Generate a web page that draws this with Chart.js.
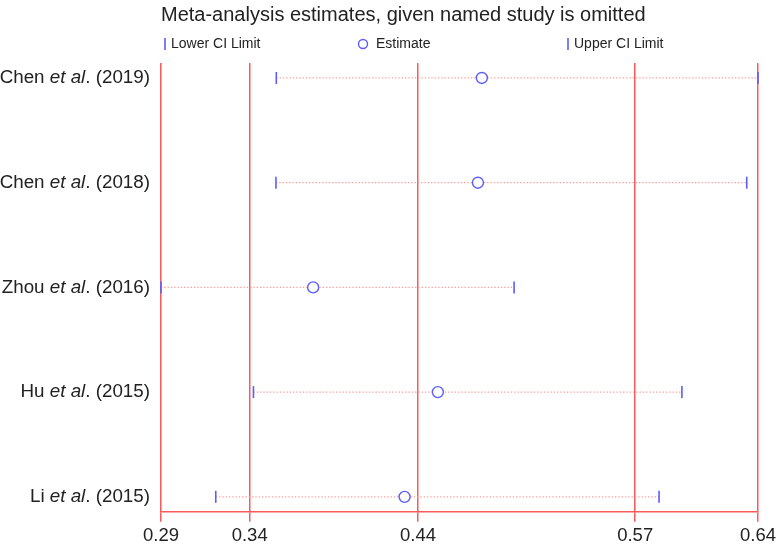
<!DOCTYPE html>
<html lang="en">
<head>
    <meta charset="UTF-8">
    <title>Meta-analysis estimates, given named study is omitted</title>
    <style>
        body {
            margin: 0;
            background: #fff;
        }
        #wrap {
            width: 779px;
            height: 550px;
        }
    </style>
    <script src="https://cdn.jsdelivr.net/npm/chart.js"></script>
</head>
<body>
    <div id="wrap"><canvas id="graph"></canvas></div>

    <script>
        // study labels, top to bottom
        const authors = ['Chen', 'Chen', 'Zhou', 'Hu', 'Li'];
        const years = ['2019', '2018', '2016', '2015', '2015'];

        // estimates with each study omitted
        const lowerCI = [0.3576, 0.3574, 0.2900, 0.3442, 0.3221];
        const estimate = [0.4781, 0.4758, 0.3792, 0.4523, 0.4328];
        const upperCI = [0.6400, 0.6334, 0.4970, 0.5954, 0.5820];

        // x axis ticks (overall lower CI, estimate, upper CI + range)
        const xTicks = [0.29, 0.342, 0.4407, 0.568, 0.64];

        const FONT = "'Liberation Sans', Arial, Helvetica, sans-serif";
        const RED = '#fa5a5a';
        const BLUE = '#5c5cff';
        const DOT = '#ff9a9a';

        const rows = authors.map((_, i) => i + 1);

        // one dotted line per study, from lower to upper limit
        const spanSets = rows.map((y, i) => ({
            type: 'line',
            data: [{ x: lowerCI[i], y: y }, { x: upperCI[i], y: y }],
            borderColor: DOT,
            borderWidth: 1.3,
            borderDash: [1.3, 2],
            pointRadius: 0,
            fill: false,
            clip: false,
            order: 3
        }));

        const lowerSet = {
            type: 'scatter',
            label: 'Lower CI Limit',
            data: rows.map((y, i) => ({ x: lowerCI[i], y: y })),
            pointStyle: 'line',
            rotation: 90,
            radius: 6,
            borderColor: BLUE,
            borderWidth: 1.6,
            clip: false,
            order: 1
        };
        const estSet = {
            type: 'scatter',
            label: 'Estimate',
            data: rows.map((y, i) => ({ x: estimate[i], y: y })),
            pointStyle: 'circle',
            radius: 5.5,
            backgroundColor: '#fff',
            borderColor: BLUE,
            borderWidth: 1.4,
            clip: false,
            order: 1
        };
        const upperSet = {
            type: 'scatter',
            label: 'Upper CI Limit',
            data: rows.map((y, i) => ({ x: upperCI[i], y: y })),
            pointStyle: 'line',
            rotation: 90,
            radius: 6,
            borderColor: BLUE,
            borderWidth: 1.6,
            clip: false,
            order: 1
        };

        // study names with italic "et al."
        const studyLabels = {
            id: 'studyLabels',
            afterDraw(chart) {
                const ctx = chart.ctx;
                const yScale = chart.scales.y;
                const right = chart.chartArea.left - 11;
                ctx.save();
                ctx.fillStyle = '#222';
                ctx.textBaseline = 'middle';
                ctx.textAlign = 'left';
                rows.forEach((row, i) => {
                    const parts = [
                        [authors[i] + ' ', 'normal'],
                        ['et al', 'italic'],
                        ['. (' + years[i] + ')', 'normal']
                    ];
                    let total = 0;
                    parts.forEach(p => {
                        ctx.font = p[1] + ' 18.8px ' + FONT;
                        total += ctx.measureText(p[0]).width;
                    });
                    let x = right - total;
                    const y = yScale.getPixelForValue(row);
                    parts.forEach(p => {
                        ctx.font = p[1] + ' 18.8px ' + FONT;
                        ctx.fillText(p[0], x, y);
                        x += ctx.measureText(p[0]).width;
                    });
                });
                ctx.restore();
            }
        };

        // Stata-like legend spread across the top
        const topLegend = {
            id: 'topLegend',
            afterDraw(chart) {
                const ctx = chart.ctx;
                const left = chart.chartArea.left;
                const y = 44;
                ctx.save();
                ctx.strokeStyle = BLUE;
                ctx.lineWidth = 1.6;
                ctx.fillStyle = '#222';
                ctx.font = '14px ' + FONT;
                ctx.textBaseline = 'middle';

                ctx.beginPath();
                ctx.moveTo(left + 4, y - 6);
                ctx.lineTo(left + 4, y + 6);
                ctx.stroke();
                ctx.fillText('Lower CI Limit', left + 10, y);

                ctx.lineWidth = 1.4;
                ctx.beginPath();
                ctx.arc(left + 202, y, 4.5, 0, Math.PI * 2);
                ctx.stroke();
                ctx.fillText('Estimate', left + 215, y);

                ctx.lineWidth = 1.6;
                ctx.beginPath();
                ctx.moveTo(left + 407, y - 6);
                ctx.lineTo(left + 407, y + 6);
                ctx.stroke();
                ctx.fillText('Upper CI Limit', left + 413, y);
                ctx.restore();
            }
        };

        const ctx = document.getElementById('graph').getContext('2d');
        new Chart(ctx, {
            type: 'scatter',
            data: {
                datasets: [...spanSets, lowerSet, estSet, upperSet]
            },
            options: {
                responsive: true,
                maintainAspectRatio: false,
                animation: false,
                layout: {
                    padding: { left: 161, right: 19, top: 0, bottom: 0 }
                },
                plugins: {
                    legend: { display: false },
                    tooltip: { enabled: false },
                    title: {
                        display: true,
                        text: 'Meta-analysis estimates, given named study is omitted',
                        align: 'start',
                        fullSize: false,
                        color: '#222',
                        font: { family: FONT, size: 20, weight: 'normal', lineHeight: 1.2 },
                        padding: { top: 3, bottom: 36 }
                    }
                },
                scales: {
                    x: {
                        type: 'linear',
                        min: 0.29,
                        max: 0.64,
                        afterBuildTicks: axis => {
                            axis.ticks = xTicks.map(v => ({ value: v }));
                        },
                        ticks: {
                            autoSkip: false,
                            maxRotation: 0,
                            color: '#222',
                            padding: 3,
                            font: { family: FONT, size: 18.5 },
                            callback: v => Number(v).toFixed(2)
                        },
                        grid: {
                            color: RED,
                            lineWidth: 1.5,
                            drawTicks: true,
                            tickLength: 10,
                            tickColor: RED
                        },
                        border: { display: true, color: RED, width: 1.5 }
                    },
                    y: {
                        type: 'linear',
                        display: false,
                        reverse: true,
                        min: 0.857,
                        max: 5.143
                    }
                }
            },
            plugins: [studyLabels, topLegend]
        });
    </script>
</body>
</html>
